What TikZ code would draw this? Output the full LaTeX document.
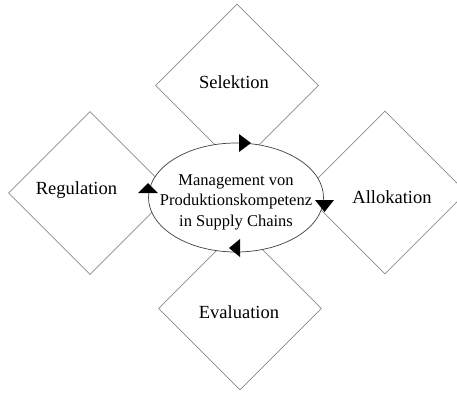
\documentclass[tikz,border=0pt]{standalone}
\usepackage{fontspec}
\setmainfont{Liberation Serif}
\usetikzlibrary{shapes.geometric}
\begin{document}
\begin{tikzpicture}[x=1pt,y=-1pt,
  phase/.style={shape=diamond, draw=black!45, line width=0.6pt, fill=white,
    minimum width=163pt, minimum height=163pt, inner sep=0pt},
  phaselabel/.style={font=\fontsize{18.5}{22}\selectfont},
  core/.style={shape=ellipse, draw=black!75, line width=0.7pt, fill=white,
    minimum width=175pt, minimum height=109pt, inner sep=0pt},
  flowtip/.style={fill=black}]
  \useasboundingbox (0,0) rectangle (457,392);
  \clip (0,0) rectangle (457,392);

  % four phases around the centre
  \node[phase] (sel) at (237,85.5) {};
  \node[phase] (reg) at (90,193) {};
  \node[phase] (all) at (385,192.5) {};
  \node[phase] (eva) at (240,308.5) {};

  \node[phaselabel] (selt) at (234,82) {Selektion};
  \node[phaselabel] (regt) at (76.5,190) {Regulation};
  \node[phaselabel] (allt) at (392,197) {Allokation};
  \node[phaselabel] (evat) at (239,312) {Evaluation};

  % central ellipse
  \node[core] (mid) at (236,197.5) {};
  \node[align=center, font=\fontsize{16.5}{20.5}\selectfont] (midt) at (236,202)
    {Management von\\Produktionskompetenz\\in Supply Chains};

  % clockwise direction marks on the ellipse
  \fill[flowtip] (239,134) -- (251,143) -- (239,152) -- cycle;
  \fill[flowtip] (315,200) -- (334,200) -- (324.5,212) -- cycle;
  \fill[flowtip] (240,239) -- (229,248) -- (240,257) -- cycle;
  \fill[flowtip] (138,193) -- (148,183) -- (158,193) -- cycle;
\end{tikzpicture}
\end{document}
